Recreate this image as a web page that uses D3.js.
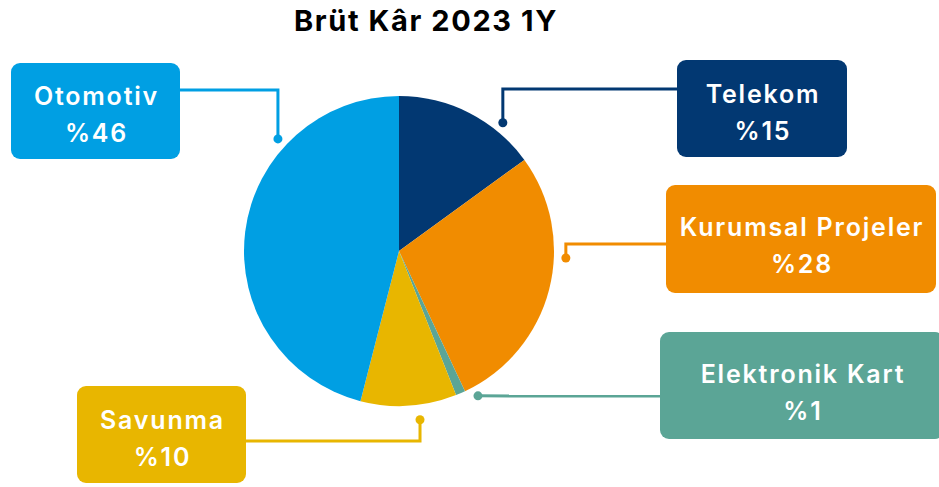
<!DOCTYPE html>
<html lang="tr">
<head>
  <meta charset="UTF-8" />
  <title>Brüt Kâr 2023 1Y</title>
  <style>
    body {
      margin: 0;
      background-color: #fff;
      font-family: Inter, Roboto, sans-serif;
    }

    svg {
      display: block;
    }

    .title {
      font-size: 29px;
      font-weight: bold;
      letter-spacing: 1.6px;
      fill: #000;
    }

    .label text {
      fill: #fff;
      font-size: 25px;
      font-weight: 600;
      letter-spacing: 1.8px;
    }
  </style>
</head>

<body>
  <svg width="939" height="487"></svg>

  <script src="https://d3js.org/d3.v7.min.js"></script>
  <script>
    const categories = ["Telekom", "Kurumsal Projeler", "Elektronik Kart", "Savunma", "Otomotiv"];
    const values = [15, 28, 1, 10, 46];
    const colors = ["#023872", "#f18c00", "#5ba596", "#e8b600", "#009fe3"];

    // where each label box sits and where its connector touches the pie
    const boxes = [
      { x: 677, y: 60, w: 170, h: 97, lineY: 89, dotAngle: 39, dotR: 165 },
      { x: 666, y: 185, w: 270, h: 108, lineY: 244, dotAngle: 92.4, dotR: 167 },
      { x: 660, y: 332, w: 284, h: 107, lineY: 396, dotAngle: 151.4, dotR: 165 },
      { x: 77, y: 386, w: 169, h: 97, lineY: 441, dotAngle: 172.9, dotR: 170 },
      { x: 11, y: 63, w: 169, h: 96, lineY: 90, dotAngle: 312.8, dotR: 165 }
    ];

    const svg = d3.select("svg");
    const cx = 399, cy = 251, radius = 155;

    svg.append("text")
      .attr("class", "title")
      .attr("x", 426)
      .attr("y", 31)
      .attr("text-anchor", "middle")
      .text("Brüt Kâr 2023 1Y");

    const data = categories.map((c, i) => ({ name: c, value: values[i], color: colors[i], box: boxes[i] }));

    const pie = d3.pie()
      .sort(null)
      .value(d => d.value);

    const arc = d3.arc()
      .innerRadius(0)
      .outerRadius(radius);

    const pieGroup = svg.append("g")
      .attr("transform", `translate(${cx},${cy})`);

    pieGroup.selectAll("path")
      .data(pie(data))
      .enter()
      .append("path")
      .attr("d", arc)
      .attr("fill", d => d.data.color);

    // connectors
    data.forEach(d => {
      const b = d.box;
      const a = b.dotAngle * Math.PI / 180;
      const dx = cx + b.dotR * Math.sin(a);
      const dy = cy - b.dotR * Math.cos(a);
      const edgeX = dx < b.x ? b.x : b.x + b.w;

      const path = d3.path();
      path.moveTo(dx, dy);
      if (Math.abs(dy - b.lineY) > 1) path.lineTo(dx, b.lineY);
      path.lineTo(edgeX, b.lineY);

      svg.append("path")
        .attr("d", path.toString())
        .attr("fill", "none")
        .attr("stroke", d.color)
        .attr("stroke-width", 3);

      svg.append("circle")
        .attr("cx", dx)
        .attr("cy", dy)
        .attr("r", 4.5)
        .attr("fill", d.color);
    });

    // label boxes
    const labels = svg.selectAll(".label")
      .data(data)
      .enter()
      .append("g")
      .attr("class", "label");

    labels.append("rect")
      .attr("x", d => d.box.x)
      .attr("y", d => d.box.y)
      .attr("width", d => d.box.w)
      .attr("height", d => d.box.h)
      .attr("rx", 9)
      .attr("ry", 9)
      .attr("fill", d => d.color);

    // taller boxes sit their text slightly lower
    const textShift = d => (d.box.h - 97) * 0.3;

    labels.append("text")
      .attr("x", d => d.box.x + d.box.w / 2 + 1)
      .attr("y", d => d.box.y + d.box.h / 2 - 6 + textShift(d))
      .attr("text-anchor", "middle")
      .text(d => d.name);

    labels.append("text")
      .attr("x", d => d.box.x + d.box.w / 2 + 1)
      .attr("y", d => d.box.y + d.box.h / 2 + 31 + textShift(d))
      .attr("text-anchor", "middle")
      .text(d => "%" + d.value);
  </script>
</body>
</html>
